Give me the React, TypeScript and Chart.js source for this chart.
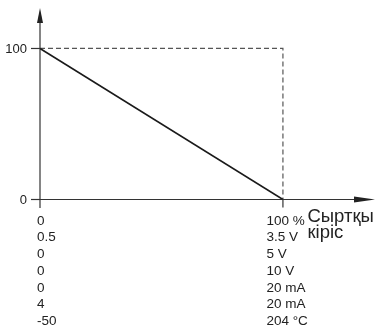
import React, { useEffect, useRef } from "react";
import { Chart, registerables } from "chart.js";

Chart.register(...registerables);

// ---- data ----
const lineX = [0, 100];
const lineY = [100, 0];
const guideX = [0, 100, 100];
const guideY = [100, 100, 0];
const yTickValues = [0, 100];
const yTickLabels = ["0", "100"];
const xTickValues = [0, 100];
const startLabels = ["0", "0.5", "0", "0", "0", "4", "-50"];
const endLabels = ["100 %", "3.5 V", "5 V", "10 V", "20 mA", "20 mA", "204 °C"];
const axisTitle = ["Сыртқы", "кіріс"];

const FONT = "Arial, 'Liberation Sans', sans-serif";
const INK = "#222";

const axesPlugin = {
  id: "axesPlugin",
  beforeDatasetsDraw(chart: any) {
    const { ctx, chartArea, scales } = chart;
    const xs = scales.x;
    const ys = scales.y;
    const x0 = xs.getPixelForValue(0);
    const y0 = ys.getPixelForValue(0);
    ctx.save();
    ctx.strokeStyle = "#333";
    ctx.fillStyle = "#222";
    ctx.lineWidth = 1.2;
    // y axis
    ctx.beginPath();
    ctx.moveTo(x0, y0 + 8.5);
    ctx.lineTo(x0, chartArea.top + 10);
    ctx.stroke();
    // x axis
    ctx.beginPath();
    ctx.moveTo(x0 - 9, y0);
    ctx.lineTo(chartArea.right - 12, y0);
    ctx.stroke();
    // y ticks
    yTickValues.forEach((v) => {
      const py = ys.getPixelForValue(v);
      ctx.beginPath();
      ctx.moveTo(x0 - 9, py);
      ctx.lineTo(x0, py);
      ctx.stroke();
    });
    // x tick at end
    const x100 = xs.getPixelForValue(xTickValues[1]);
    ctx.beginPath();
    ctx.moveTo(x100, y0);
    ctx.lineTo(x100, y0 + 8);
    ctx.stroke();
    // arrowheads
    ctx.beginPath();
    ctx.moveTo(x0, chartArea.top);
    ctx.lineTo(x0 - 3, chartArea.top + 15);
    ctx.lineTo(x0 + 3, chartArea.top + 15);
    ctx.closePath();
    ctx.fill();
    ctx.beginPath();
    ctx.moveTo(chartArea.right, y0);
    ctx.lineTo(chartArea.right - 21, y0 - 3);
    ctx.lineTo(chartArea.right - 21, y0 + 3);
    ctx.closePath();
    ctx.fill();
    ctx.restore();
  },
  afterDraw(chart: any) {
    const { ctx, scales } = chart;
    const xs = scales.x;
    const ys = scales.y;
    const x0 = xs.getPixelForValue(0);
    const y0 = ys.getPixelForValue(0);
    ctx.save();
    ctx.fillStyle = INK;
    ctx.font = `13px ${FONT}`;
    ctx.textBaseline = "middle";
    ctx.textAlign = "right";
    yTickValues.forEach((v, i) => {
      ctx.fillText(yTickLabels[i], x0 - 13, ys.getPixelForValue(v) + 1);
    });
    ctx.textAlign = "left";
    ctx.textBaseline = "alphabetic";
    ctx.font = `13.5px ${FONT}`;
    const xa = xs.getPixelForValue(xTickValues[0]) - 3;
    const x100 = xs.getPixelForValue(xTickValues[1]);
    const xb = x100 - 16.5;
    startLabels.forEach((t, i) => ctx.fillText(t, xa, y0 + 25 + i * 16.75));
    endLabels.forEach((t, i) => ctx.fillText(t, xb, y0 + 25 + i * 16.75));
    ctx.font = `18.5px ${FONT}`;
    axisTitle.forEach((t, i) => ctx.fillText(t, x100 + 24.5, y0 + 22 + i * 16.5));
    ctx.restore();
  },
};

export default function App() {
  const ref = useRef<HTMLCanvasElement | null>(null);
  useEffect(() => {
    document.body.style.margin = "0";
    const canvas = ref.current!;
    const chart = new Chart(canvas, {
      type: "line",
      data: {
        datasets: [
          {
            data: lineX.map((x, i) => ({ x, y: lineY[i] })),
            borderColor: "#1a1a1a",
            borderWidth: 1.6,
            pointRadius: 0,
            fill: false,
            order: 1,
          },
          {
            data: guideX.map((x, i) => ({ x, y: guideY[i] })),
            borderColor: "#555",
            borderWidth: 1.2,
            borderDash: [5, 3],
            pointRadius: 0,
            fill: false,
            order: 2,
          },
        ],
      },
      options: {
        animation: false,
        responsive: false,
        maintainAspectRatio: false,
        events: [],
        layout: { padding: { left: 40, right: 4, top: 8, bottom: 127.5 } },
        plugins: { legend: { display: false }, tooltip: { enabled: false } },
        scales: {
          x: { type: "linear", min: 0, max: 137.9, display: false },
          y: { type: "linear", min: 0, max: 126.8, display: false },
        },
      },
      plugins: [axesPlugin],
    });
    return () => chart.destroy();
  }, []);
  return (
    <div style={{ width: 379, height: 327, background: "#fff" }}>
      <canvas ref={ref} width={379} height={327} style={{ display: "block" }} />
    </div>
  );
}
